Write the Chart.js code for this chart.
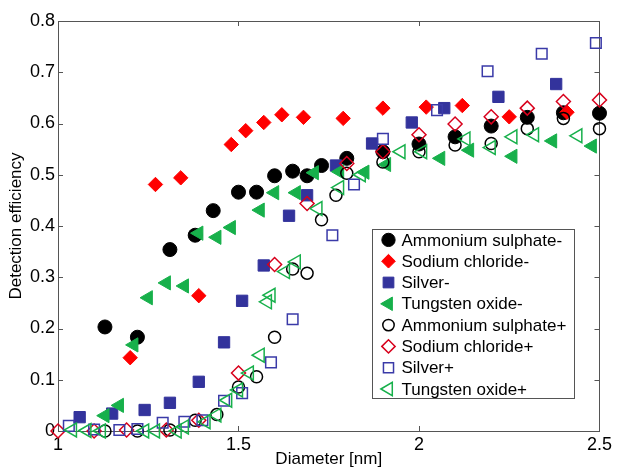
<!DOCTYPE html>
<html>
<head>
<meta charset="utf-8">
<script src="https://cdn.jsdelivr.net/npm/chart.js@4/dist/chart.umd.min.js"></script>
<style>
  html, body { margin: 0; padding: 0; background: #fff; }
  canvas { display: block; }
</style>
</head>
<body>
<canvas id="c" width="617" height="468"></canvas>
<script>
// Detection efficiency versus particle diameter, negative (-) and positive (+) polarity
const ammSulphNegX = [1.13, 1.22, 1.31, 1.38, 1.43, 1.50, 1.55, 1.60, 1.65, 1.69, 1.73, 1.80, 1.90, 2.00, 2.10, 2.20, 2.30, 2.40, 2.50];
const ammSulphNegY = [0.203, 0.183, 0.354, 0.382, 0.430, 0.466, 0.466, 0.498, 0.507, 0.498, 0.518, 0.532, 0.545, 0.560, 0.574, 0.595, 0.612, 0.621, 0.620];

const sodChlNegX = [1.20, 1.27, 1.34, 1.39, 1.48, 1.52, 1.57, 1.62, 1.68, 1.79, 1.90, 2.02, 2.12, 2.25, 2.41];
const sodChlNegY = [0.143, 0.481, 0.494, 0.264, 0.559, 0.586, 0.602, 0.617, 0.612, 0.610, 0.630, 0.632, 0.635, 0.613, 0.622];

const silverNegX = [1.06, 1.15, 1.24, 1.31, 1.39, 1.46, 1.51, 1.57, 1.64, 1.69, 1.77, 1.87, 1.98, 2.07, 2.22, 2.38];
const silverNegY = [0.027, 0.034, 0.041, 0.055, 0.096, 0.173, 0.254, 0.323, 0.420, 0.460, 0.518, 0.561, 0.602, 0.630, 0.652, 0.677];

const tungOxNegX = [1.13, 1.17, 1.21, 1.25, 1.30, 1.35, 1.39, 1.44, 1.48, 1.56, 1.60, 1.66, 1.71, 1.78, 1.85, 1.91, 2.06, 2.14, 2.26, 2.37, 2.48];
const tungOxNegY = [0.030, 0.050, 0.168, 0.260, 0.289, 0.283, 0.386, 0.378, 0.397, 0.431, 0.465, 0.465, 0.504, 0.506, 0.505, 0.520, 0.532, 0.548, 0.536, 0.566, 0.556];

const ammSulphPosX = [1.13, 1.22, 1.31, 1.38, 1.44, 1.50, 1.55, 1.60, 1.65, 1.69, 1.73, 1.77, 1.80, 1.90, 2.00, 2.10, 2.20, 2.30, 2.40, 2.50];
const ammSulphPosY = [0.000, 0.000, 0.002, 0.021, 0.032, 0.086, 0.106, 0.183, 0.316, 0.308, 0.412, 0.460, 0.503, 0.525, 0.545, 0.558, 0.561, 0.590, 0.610, 0.590];

const sodChlPosX = [1.00, 1.10, 1.19, 1.30, 1.39, 1.50, 1.60, 1.69, 1.80, 1.90, 2.00, 2.10, 2.20, 2.30, 2.40, 2.50];
const sodChlPosY = [0.000, 0.000, 0.002, 0.002, 0.021, 0.113, 0.325, 0.444, 0.522, 0.545, 0.578, 0.599, 0.613, 0.630, 0.643, 0.646];

const silverPosX = [1.03, 1.10, 1.17, 1.22, 1.29, 1.35, 1.40, 1.46, 1.51, 1.59, 1.65, 1.76, 1.82, 1.90, 2.05, 2.19, 2.34, 2.49];
const silverPosY = [0.010, 0.003, 0.002, 0.004, 0.016, 0.018, 0.021, 0.059, 0.074, 0.134, 0.218, 0.382, 0.481, 0.570, 0.626, 0.702, 0.736, 0.757];

const tungOxPosX = [1.04, 1.08, 1.12, 1.24, 1.27, 1.33, 1.35, 1.41, 1.44, 1.47, 1.50, 1.53, 1.56, 1.58, 1.59, 1.63, 1.66, 1.72, 1.78, 1.84, 1.95, 2.01, 2.13, 2.20, 2.26, 2.32, 2.44];
const tungOxPosY = [0.002, 0.001, 0.000, 0.000, 0.000, 0.000, 0.008, 0.018, 0.031, 0.060, 0.080, 0.113, 0.148, 0.252, 0.265, 0.311, 0.330, 0.434, 0.475, 0.500, 0.545, 0.545, 0.570, 0.553, 0.574, 0.578, 0.576];

const seriesNames = [
  'Ammonium sulphate-', 'Sodium chloride-', 'Silver-', 'Tungsten oxide-',
  'Ammonium sulphate+', 'Sodium chloride+', 'Silver+', 'Tungsten oxide+'
];

const xTickValues = [1, 1.5, 2, 2.5];
const yTickValues = [0, 0.1, 0.2, 0.3, 0.4, 0.5, 0.6, 0.7, 0.8];

const xTitle = 'Diameter [nm]';
const yTitle = 'Detection efficiency';

const FONT = '"Liberation Sans", Arial, Helvetica, sans-serif';
const AXIS_COLOR = '#555555';

function pts(xs, ys) { return xs.map((x, i) => ({ x: x, y: ys[i] })); }

function series(label, xs, ys, style) {
  return Object.assign({
    label: label,
    data: pts(xs, ys),
    showLine: false,
    clip: false,
    rotation: 0
  }, style);
}

const NONE = 'rgba(0,0,0,0)';
const RED_OPEN = '#d8001c';
const BLUE = '#33339c';
const GREEN = '#17b04b';

const datasets = [
  series(seriesNames[0], ammSulphNegX, ammSulphNegY, { pointStyle: 'circle', pointRadius: 7, backgroundColor: '#000', borderColor: '#000', borderWidth: 1 }),
  series(seriesNames[1], sodChlNegX, sodChlNegY, { pointStyle: 'rectRot', pointRadius: 7.2, backgroundColor: '#ff0000', borderColor: '#ff0000', borderWidth: 1 }),
  series(seriesNames[2], silverNegX, silverNegY, { pointStyle: 'rect', pointRadius: 8, backgroundColor: BLUE, borderColor: BLUE, borderWidth: 1 }),
  series(seriesNames[3], tungOxNegX, tungOxNegY, { pointStyle: 'triangle', rotation: -90, pointRadius: 8.2, backgroundColor: GREEN, borderColor: GREEN, borderWidth: 1 }),
  series(seriesNames[4], ammSulphPosX, ammSulphPosY, { pointStyle: 'circle', pointRadius: 6, backgroundColor: NONE, borderColor: '#000', borderWidth: 1.5 }),
  series(seriesNames[5], sodChlPosX, sodChlPosY, { pointStyle: 'rectRot', pointRadius: 7, backgroundColor: NONE, borderColor: RED_OPEN, borderWidth: 1.5 }),
  series(seriesNames[6], silverPosX, silverPosY, { pointStyle: 'rect', pointRadius: 7.5, backgroundColor: NONE, borderColor: '#3a3aa8', borderWidth: 1.5 }),
  series(seriesNames[7], tungOxPosX, tungOxPosY, { pointStyle: 'triangle', rotation: -90, pointRadius: 8, backgroundColor: NONE, borderColor: GREEN, borderWidth: 1.5 })
];
// later series are painted over earlier ones
datasets.forEach((d, i) => { d.order = datasets.length - i; d.pointRotation = d.rotation; });

function fmt(v) { return String(+Number(v).toFixed(2)); }

// marker helper shared by the legend
function marker(ctx, ds, x, y) {
  ctx.save();
  ctx.fillStyle = ds.backgroundColor;
  ctx.strokeStyle = ds.borderColor;
  ctx.lineWidth = ds.borderWidth;
  Chart.helpers.drawPoint(ctx, {
    pointStyle: ds.pointStyle,
    rotation: ds.rotation,
    radius: ds.pointRadius,
    borderWidth: ds.borderWidth
  }, x, y);
  ctx.restore();
}

// axes box with inward tick marks on all four sides
const boxPlugin = {
  id: 'boxAxes',
  beforeDatasetsDraw(chart) {
    const { ctx, chartArea: a, scales } = chart;
    const len = 5;
    ctx.save();
    ctx.strokeStyle = AXIS_COLOR;
    ctx.lineWidth = 1;
    ctx.strokeRect(Math.round(a.left) + 0.5, Math.round(a.top) + 0.5,
                   Math.round(a.right - a.left), Math.round(a.bottom - a.top));
    ctx.beginPath();
    xTickValues.forEach(v => {
      const px = Math.round(scales.x.getPixelForValue(v)) + 0.5;
      ctx.moveTo(px, a.bottom); ctx.lineTo(px, a.bottom - len);
      ctx.moveTo(px, a.top); ctx.lineTo(px, a.top + len);
    });
    yTickValues.forEach(v => {
      const py = Math.round(scales.y.getPixelForValue(v)) + 0.5;
      ctx.moveTo(a.left, py); ctx.lineTo(a.left + len, py);
      ctx.moveTo(a.right, py); ctx.lineTo(a.right - len, py);
    });
    ctx.stroke();
    ctx.restore();
  }
};

// boxed legend in the lower right of the plot area
const legendPlugin = {
  id: 'insetLegend',
  afterDatasetsDraw(chart) {
    const { ctx, chartArea: a } = chart;
    const right = a.right - 25, bottom = a.bottom - 33;
    const w = 202, rowH = 21.3;
    const sets = chart.data.datasets;
    const h = rowH * (sets.length - 1) + 20;
    const left = right - w, top = bottom - h;
    ctx.save();
    ctx.fillStyle = '#fff';
    ctx.fillRect(left, top, w, h);
    ctx.strokeStyle = AXIS_COLOR;
    ctx.lineWidth = 1;
    ctx.strokeRect(Math.round(left) + 0.5, Math.round(top) + 0.5, Math.round(w), Math.round(h));
    ctx.font = '17px ' + FONT;
    ctx.textBaseline = 'middle';
    ctx.textAlign = 'left';
    sets.forEach((ds, i) => {
      const y = top + 11 + i * rowH;
      const legendDs = Object.assign({}, ds, { pointRadius: ds.pointRadius * 0.95 });
      marker(ctx, legendDs, left + 16, y);
      ctx.fillStyle = '#000';
      ctx.fillText(ds.label, left + 29, y + 1);
    });
    ctx.restore();
  }
};

new Chart(document.getElementById('c'), {
  type: 'scatter',
  data: { datasets: datasets },
  options: {
    responsive: false,
    devicePixelRatio: 1,
    animation: false,
    layout: { padding: { top: 21, right: 14, bottom: 0, left: 0 } },
    plugins: { legend: { display: false }, tooltip: { enabled: false } },
    elements: { point: { hoverRadius: 0 } },
    scales: {
      x: {
        type: 'linear',
        min: 1, max: 2.5,
        afterFit(s) { s.height = 37; },
        afterBuildTicks(s) { s.ticks = xTickValues.map(v => ({ value: v })); },
        grid: { display: false, drawTicks: false },
        border: { display: false },
        ticks: { color: '#000', font: { family: FONT, size: 18, lineHeight: 1 }, padding: 5, maxRotation: 0, callback: fmt },
        title: { display: true, text: xTitle, color: '#000', font: { family: FONT, size: 17, lineHeight: 1 }, padding: { top: 0, bottom: 0 } }
      },
      y: {
        type: 'linear',
        min: 0, max: 0.8,
        afterFit(s) { s.width = 58; },
        afterBuildTicks(s) { s.ticks = yTickValues.map(v => ({ value: v })); },
        grid: { display: false, drawTicks: false },
        border: { display: false },
        ticks: { color: '#000', font: { family: FONT, size: 18, lineHeight: 1 }, padding: 3, callback: fmt },
        title: { display: true, text: yTitle, color: '#000', font: { family: FONT, size: 17, lineHeight: 1 }, padding: { top: 8, bottom: 0 } }
      }
    }
  },
  plugins: [boxPlugin, legendPlugin]
});
</script>
</body>
</html>
